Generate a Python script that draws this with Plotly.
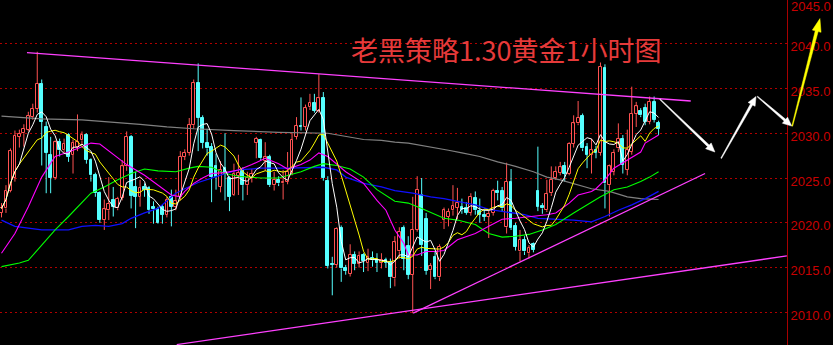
import pandas as pd
import plotly.graph_objects as go

# ---- hourly gold candles (bar index = position on the x axis) ----
opens = [
    2021.1, 2021.6, 2023.6, 2025.0, 2029.6, 2030.0, 2030.4, 2031.8, 2032.7, 2035.5,
    2030.7, 2027.6, 2025.0, 2029.0, 2028.1, 2029.8, 2027.6, 2028.5, 2029.2, 2029.8,
    2027.0, 2025.3, 2023.3, 2020.3, 2021.4, 2022.5, 2021.6, 2022.8, 2026.3, 2029.6,
    2024.0, 2022.9, 2024.0, 2023.9, 2021.8, 2021.5, 2021.8, 2020.9, 2022.9, 2021.8,
    2022.9, 2027.4, 2027.8, 2030.9, 2035.6, 2031.7, 2028.9, 2028.5, 2026.3, 2024.0,
    2026.1, 2025.0, 2023.1, 2025.2, 2025.9, 2024.2, 2025.0, 2028.9, 2029.3, 2026.9,
    2027.4, 2024.2, 2024.8, 2024.4, 2024.6, 2025.5, 2029.6, 2030.8, 2030.7, 2032.9,
    2033.4, 2032.5, 2033.9, 2024.7, 2015.4, 2015.3, 2019.4, 2015.0, 2014.3, 2016.4,
    2015.4, 2016.4, 2015.5, 2016.1, 2015.8, 2015.5, 2015.8, 2015.6, 2013.8, 2016.8,
    2019.4, 2017.4, 2014.2, 2019.2, 2023.1, 2020.4, 2014.7, 2016.2, 2013.9, 2020.3,
    2020.7, 2021.4, 2021.7, 2021.8, 2021.7, 2021.1, 2022.8, 2021.3, 2020.9, 2020.7,
    2021.1, 2023.5, 2023.5, 2019.5, 2024.6, 2019.6, 2016.8, 2018.1, 2016.6, 2017.6,
    2023.5, 2021.9, 2021.4, 2023.3, 2025.0, 2025.6, 2026.3, 2025.5, 2028.8, 2031.1,
    2031.9, 2028.5, 2027.6, 2028.1, 2027.8, 2037.3, 2024.2, 2025.7, 2028.3, 2029.4,
    2025.9, 2027.9, 2032.2, 2032.5, 2032.8, 2031.3, 2033.5, 2031.1,
]
highs = [
    2022.2, 2024.2, 2028.3, 2030.3, 2030.4, 2031.0, 2032.4, 2033.3, 2039.1, 2036.0,
    2031.3, 2029.6, 2029.2, 2029.4, 2029.4, 2030.0, 2029.3, 2032.1, 2030.2, 2030.0,
    2027.2, 2025.6, 2023.5, 2022.6, 2025.1, 2024.0, 2022.9, 2027.0, 2030.2, 2029.8,
    2025.7, 2024.8, 2024.4, 2024.1, 2022.4, 2021.8, 2022.0, 2022.9, 2023.7, 2023.7,
    2028.0, 2028.2, 2031.7, 2036.0, 2037.8, 2032.0, 2030.5, 2028.9, 2027.7, 2026.9,
    2030.0, 2025.2, 2026.6, 2027.6, 2026.2, 2025.7, 2026.0, 2029.6, 2029.4, 2029.0,
    2027.6, 2025.7, 2025.2, 2025.9, 2027.9, 2030.0, 2031.8, 2034.0, 2033.2, 2034.4,
    2034.4, 2036.6, 2034.6, 2025.2, 2016.2, 2019.5, 2019.7, 2015.3, 2017.6, 2016.8,
    2016.8, 2016.6, 2017.1, 2016.8, 2016.6, 2016.6, 2016.1, 2016.0, 2018.5, 2019.5,
    2019.7, 2018.5, 2022.9, 2025.2, 2025.0, 2021.1, 2015.5, 2016.8, 2017.6, 2021.7,
    2021.6, 2024.2, 2023.9, 2022.7, 2022.3, 2023.3, 2023.5, 2022.7, 2021.5, 2021.4,
    2023.8, 2024.7, 2024.0, 2026.7, 2026.0, 2020.0, 2019.2, 2018.5, 2017.5, 2017.8,
    2028.5, 2022.2, 2024.8, 2026.3, 2026.3, 2026.8, 2026.8, 2029.0, 2032.0, 2033.6,
    2032.2, 2028.9, 2029.4, 2028.6, 2037.9, 2037.7, 2026.5, 2028.2, 2031.1, 2029.8,
    2030.4, 2035.2, 2033.5, 2032.8, 2033.3, 2034.1, 2034.1, 2031.4,
]
lows = [
    2020.6, 2021.1, 2023.4, 2024.6, 2028.4, 2028.5, 2030.2, 2031.5, 2032.3, 2026.4,
    2023.3, 2023.3, 2024.8, 2027.4, 2027.8, 2026.8, 2025.5, 2028.0, 2028.7, 2026.6,
    2024.6, 2022.9, 2020.0, 2019.2, 2020.3, 2020.7, 2021.4, 2022.5, 2025.8, 2021.6,
    2019.4, 2021.8, 2022.9, 2021.0, 2019.9, 2019.9, 2019.9, 2020.6, 2019.6, 2021.4,
    2022.5, 2027.0, 2027.5, 2030.5, 2028.0, 2028.3, 2027.5, 2022.3, 2023.7, 2023.4,
    2022.5, 2021.3, 2023.0, 2023.1, 2022.5, 2023.1, 2024.5, 2027.2, 2027.0, 2025.8,
    2024.0, 2023.6, 2024.1, 2022.6, 2024.3, 2025.3, 2029.3, 2030.3, 2030.3, 2032.6,
    2032.3, 2032.3, 2024.7, 2014.9, 2011.9, 2015.0, 2013.4, 2014.2, 2014.0, 2014.7,
    2015.0, 2014.5, 2014.6, 2015.1, 2014.5, 2014.9, 2015.0, 2012.7, 2012.9, 2016.0,
    2014.7, 2013.7, 2009.9, 2019.0, 2016.3, 2014.2, 2012.6, 2013.7, 2013.5, 2019.3,
    2019.6, 2020.8, 2020.4, 2021.0, 2020.9, 2020.8, 2020.9, 2020.0, 2020.2, 2018.3,
    2020.8, 2022.5, 2021.2, 2018.8, 2019.2, 2016.9, 2015.7, 2016.4, 2016.0, 2016.7,
    2021.3, 2021.0, 2021.2, 2023.0, 2024.8, 2025.3, 2024.6, 2025.3, 2028.4, 2030.9,
    2028.0, 2026.1, 2025.5, 2027.2, 2027.5, 2021.6, 2020.7, 2025.3, 2027.9, 2025.5,
    2025.3, 2027.6, 2030.7, 2031.8, 2030.9, 2031.0, 2031.2, 2029.8,
]
closes = [
    2021.6, 2023.6, 2028.0, 2029.7, 2029.9, 2030.5, 2031.9, 2032.7, 2035.5, 2031.3,
    2027.8, 2025.0, 2029.0, 2028.1, 2028.8, 2027.4, 2028.9, 2029.0, 2029.8, 2027.0,
    2025.3, 2023.3, 2020.3, 2021.5, 2022.1, 2021.8, 2022.7, 2026.3, 2029.6, 2023.0,
    2022.9, 2023.9, 2023.7, 2021.4, 2021.5, 2020.0, 2020.9, 2022.6, 2021.8, 2022.4,
    2027.4, 2027.8, 2030.9, 2035.6, 2031.7, 2028.9, 2028.3, 2025.1, 2025.1, 2025.9,
    2025.5, 2022.9, 2025.5, 2025.6, 2024.2, 2025.0, 2025.5, 2029.4, 2027.2, 2027.3,
    2024.2, 2024.8, 2024.4, 2024.6, 2025.7, 2029.3, 2030.8, 2030.7, 2032.8, 2033.4,
    2032.5, 2033.9, 2025.0, 2015.2, 2015.3, 2019.3, 2014.9, 2014.6, 2016.4, 2015.4,
    2016.3, 2015.7, 2016.2, 2015.8, 2015.5, 2015.8, 2015.5, 2013.9, 2017.8, 2019.0,
    2016.0, 2014.2, 2019.2, 2023.7, 2017.5, 2014.6, 2015.2, 2013.9, 2017.3, 2021.4,
    2021.2, 2021.9, 2022.2, 2021.4, 2021.1, 2022.9, 2021.4, 2020.9, 2020.7, 2021.0,
    2023.6, 2023.3, 2021.6, 2024.6, 2019.4, 2017.3, 2018.1, 2016.8, 2017.2, 2017.0,
    2021.8, 2021.6, 2023.2, 2024.8, 2025.7, 2026.2, 2025.5, 2028.8, 2031.1, 2031.7,
    2028.3, 2027.6, 2028.1, 2027.8, 2037.4, 2024.4, 2026.3, 2027.8, 2029.4, 2026.5,
    2028.1, 2032.2, 2033.0, 2032.0, 2031.3, 2033.5, 2031.5, 2030.5,
]

# ---- longer moving averages, sampled at bar indices ----
ma_magenta_idx = [0, 3, 6, 9, 12, 15, 18, 20, 22, 25, 28, 32, 35, 38, 40, 41, 43, 45, 47,
                  50, 53, 56, 59, 62, 64, 67, 69, 71, 73, 75, 77, 81, 84, 86, 88, 90, 91,
                  93, 95, 97, 99, 102, 106, 109, 112, 115, 119, 122, 124, 127, 129, 132,
                  133, 135, 137, 140, 143, 144, 147]
ma_magenta_val = [2016.6, 2018.8, 2021.8, 2025.1, 2027.4, 2027.9, 2028.5, 2028.9, 2028.8,
                  2027.6, 2026.5, 2025.3, 2024.2, 2023.1, 2022.9, 2023.5, 2024.4, 2025.0,
                  2025.5, 2025.6, 2025.9, 2026.5, 2027.2, 2026.6, 2026.0, 2026.5, 2027.0,
                  2027.8, 2027.4, 2026.5, 2025.7, 2024.4, 2022.5, 2021.4, 2019.2, 2017.7,
                  2016.4, 2016.4, 2016.8, 2016.8, 2016.9, 2018.1, 2018.8, 2019.6, 2020.4,
                  2020.5, 2020.7, 2020.9, 2021.1, 2022.2, 2023.1, 2023.5, 2023.8, 2024.8,
                  2026.1, 2027.0, 2027.9, 2028.9, 2029.8]

ma_green_idx = [0, 4, 6, 9, 12, 15, 18, 20, 23, 26, 29, 32, 35, 39, 42, 44, 47, 50, 53,
                58, 62, 64, 67, 70, 72, 75, 78, 81, 84, 88, 91, 94, 97, 99, 102, 106,
                109, 112, 115, 118, 121, 124, 128, 131, 134, 137, 140, 143, 145, 147]
ma_green_val = [2015.1, 2015.5, 2015.8, 2017.5, 2019.2, 2020.7, 2022.2, 2023.3, 2024.0,
                2024.8, 2025.5, 2026.0, 2025.8, 2025.7, 2026.1, 2026.3, 2026.2, 2025.5,
                2025.2, 2025.0, 2025.0, 2025.3, 2025.7, 2026.3, 2026.6, 2026.4, 2026.0,
                2025.1, 2023.7, 2022.4, 2022.2, 2021.6, 2020.9, 2020.5, 2020.3, 2019.8,
                2018.8, 2018.4, 2018.5, 2018.7, 2019.2, 2019.8, 2021.1, 2022.0, 2022.9,
                2023.7, 2024.0, 2024.6, 2025.1, 2025.7]

ma_blue_idx = [0, 3, 6, 9, 12, 15, 18, 21, 24, 27, 29, 32, 35, 39, 41, 44, 47, 50, 53,
               58, 64, 69, 72, 75, 77, 81, 85, 88, 92, 96, 99, 102, 106, 109, 113, 117,
               120, 124, 128, 132, 135, 138, 141, 144, 147]
ma_blue_val = [2020.3, 2019.6, 2019.4, 2019.2, 2019.2, 2019.2, 2019.6, 2019.7, 2019.6,
               2019.9, 2020.5, 2021.1, 2021.6, 2023.3, 2023.8, 2024.5, 2025.0, 2025.5,
               2025.9, 2026.1, 2026.1, 2026.2, 2026.2, 2025.9, 2025.1, 2024.4, 2024.0,
               2023.6, 2023.3, 2022.9, 2022.7, 2022.4, 2022.0, 2021.5, 2021.2, 2020.9,
               2020.5, 2020.4, 2020.3, 2020.1, 2020.7, 2021.4, 2022.0, 2022.7, 2023.5]

ma_gray_idx = [0, 9, 18, 24, 31, 37, 43, 52, 62, 73, 78, 81, 85, 88, 91, 96, 100, 103,
               107, 111, 115, 119, 122, 125, 129, 132, 136, 140, 143, 147]
ma_gray_val = [2031.9, 2031.6, 2031.5, 2031.3, 2031.0, 2030.7, 2030.5, 2030.3, 2030.1,
               2030.0, 2029.6, 2029.3, 2029.2, 2029.0, 2028.9, 2028.5, 2028.1, 2027.8,
               2027.4, 2026.8, 2026.3, 2025.7, 2025.1, 2024.8, 2024.2, 2023.8, 2023.5,
               2022.9, 2022.7, 2022.6]

# ---- trend lines: (bar index, price) end points ----
trend_x0 = [5.7, 92.1, 39.2]
trend_y0 = [2039.0, 2009.9, 2006.4]
trend_x1 = [154.2, 157.4, 175.7]
trend_y1 = [2033.6, 2025.5, 2016.3]

# ---- projected path arrows: (bar index, price) ----
arrow_x0 = [147.3, 161.0, 169.1, 176.9]
arrow_y0 = [2033.8, 2027.2, 2034.1, 2030.8]
arrow_x1 = [159.6, 168.8, 176.8, 183.1]
arrow_y1 = [2027.9, 2034.1, 2030.8, 2042.8]
arrow_colors = ["#ffffff", "#ffffff", "#ffffff", "#ffff00"]

price_ticks = [2010, 2015, 2020, 2025, 2030, 2035, 2040]
top_price_label = 2045
title_text = "老黑策略1.30黄金1小时图"

# ---- figure geometry ----
W, H = 833, 345
M_RIGHT = 46
PLOT_W = W - M_RIGHT
X_RANGE = [-0.336, 175.73]
Y_RANGE = [2006.35, 2044.88]

UP = "#ff5252"
DOWN = "#55ffff"
AXIS_RED = "#c80000"
LABEL_FONT = dict(family="Liberation Sans", size=13, color=AXIS_RED)

n = len(closes)
idx = list(range(n))
df = pd.DataFrame({"o": opens, "h": highs, "l": lows, "c": closes})
ma5 = df["c"].rolling(5, min_periods=1).mean()
ma10 = df["c"].rolling(10, min_periods=1).mean()

fig = go.Figure()

# candle wicks (drawn outside the body so hollow bodies stay empty)
for up, col in ((True, UP), (False, DOWN)):
    wx, wy = [], []
    for i in idx:
        o, h, l, c = opens[i], highs[i], lows[i], closes[i]
        if (c >= o) != up:
            continue
        top, bot = max(o, c), min(o, c)
        wx += [i, i, None, i, i, None]
        wy += [max(h, top), top, None, bot, min(l, bot), None]
    fig.add_trace(go.Scatter(x=wx, y=wy, mode="lines", line=dict(color=col, width=1),
                             hoverinfo="skip"))

# candle bodies
for up, fill, col in ((True, "#000000", UP), (False, DOWN, DOWN)):
    bx, bb, bh = [], [], []
    for i in idx:
        o, c = opens[i], closes[i]
        if (c >= o) != up:
            continue
        bx.append(i)
        bb.append(min(o, c))
        bh.append(max(abs(c - o), 0.08))
    fig.add_trace(go.Bar(x=bx, y=bh, base=bb, width=0.62,
                         marker=dict(color=fill, line=dict(color=col, width=1)),
                         hoverinfo="skip"))

# moving averages
ma_lines = [
    (ma_gray_idx, ma_gray_val, "#808080", 1.2),
    (ma_blue_idx, ma_blue_val, "#1010ff", 1.3),
    (ma_green_idx, ma_green_val, "#00ff00", 1.1),
    (ma_magenta_idx, ma_magenta_val, "#ff00ff", 1.1),
    (idx, list(ma10), "#ffff00", 1.0),
    (idx, list(ma5), "#ffffff", 1.0),
]
for xs, ys, col, lw in ma_lines:
    fig.add_trace(go.Scatter(x=xs, y=ys, mode="lines", line=dict(color=col, width=lw),
                             hoverinfo="skip"))

# trend lines
for x0, y0, x1, y1 in zip(trend_x0, trend_y0, trend_x1, trend_y1):
    fig.add_shape(type="line", xref="x", yref="y", x0=x0, y0=y0, x1=x1, y1=y1,
                  line=dict(color="#ff40ff", width=1.3))


def to_px(i, p):
    px = (i - X_RANGE[0]) / (X_RANGE[1] - X_RANGE[0]) * PLOT_W
    py = (Y_RANGE[1] - p) / (Y_RANGE[1] - Y_RANGE[0]) * H
    return px, py


def arrow_path(p0, p1, w0, w1, head_len, head_w):
    (x0, y0), (x1, y1) = p0, p1
    dx, dy = x1 - x0, y1 - y0
    ln = (dx * dx + dy * dy) ** 0.5
    ux, uy = dx / ln, dy / ln
    nx, ny = -uy, ux
    bx, by = x1 - ux * head_len, y1 - uy * head_len
    pts = [
        (x0 + nx * w0 / 2, y0 + ny * w0 / 2),
        (bx + nx * w1 / 2, by + ny * w1 / 2),
        (bx + nx * head_w / 2, by + ny * head_w / 2),
        (x1, y1),
        (bx - nx * head_w / 2, by - ny * head_w / 2),
        (bx - nx * w1 / 2, by - ny * w1 / 2),
        (x0 - nx * w0 / 2, y0 - ny * w0 / 2),
    ]
    s = ""
    for k, (px, py) in enumerate(pts):
        s += ("M" if k == 0 else "L") + f"{px / PLOT_W:.5f},{1 - py / H:.5f} "
    return s + "Z"


for k in range(len(arrow_x0)):
    p0 = to_px(arrow_x0[k], arrow_y0[k])
    p1 = to_px(arrow_x1[k], arrow_y1[k])
    big = arrow_colors[k] == "#ffff00"
    fig.add_shape(type="path", xref="paper", yref="paper",
                  path=arrow_path(p0, p1, 0.8, 3.0 if big else 2.4,
                                  13 if big else 9, 9 if big else 8),
                  fillcolor=arrow_colors[k], line=dict(color=arrow_colors[k], width=0.5),
                  layer="above")

# title text
fig.add_annotation(text=title_text, xref="paper", yref="paper", x=506 / PLOT_W, y=1 - 49 / H,
                   xanchor="center", yanchor="middle", showarrow=False,
                   font=dict(family="Noto Sans CJK SC", size=27, color="#e63a3a"))

# price label just above the visible range, at the window's top edge
fig.add_annotation(text=f"{top_price_label:.1f}", xref="paper", yref="paper",
                   x=1 + 2 / PLOT_W, y=1 - 6.5 / H,
                   xanchor="left", yanchor="middle", showarrow=False, font=LABEL_FONT)

fig.update_layout(
    width=W, height=H,
    margin=dict(l=0, r=M_RIGHT, t=0, b=0),
    paper_bgcolor="#000000", plot_bgcolor="#000000",
    showlegend=False, barmode="overlay", bargap=0,
    xaxis=dict(range=X_RANGE, visible=False, showgrid=False, zeroline=False),
    yaxis=dict(range=Y_RANGE, side="right", tickvals=price_ticks,
               ticktext=[f"{v:.1f}" for v in price_ticks],
               showgrid=True, gridcolor="#b00000", gridwidth=1, griddash="2px,3px",
               showline=True, linecolor="#a80000", linewidth=1,
               zeroline=False, ticks="", ticklabelshift=3,
               tickfont=LABEL_FONT),
)

fig.write_html("out.html")
